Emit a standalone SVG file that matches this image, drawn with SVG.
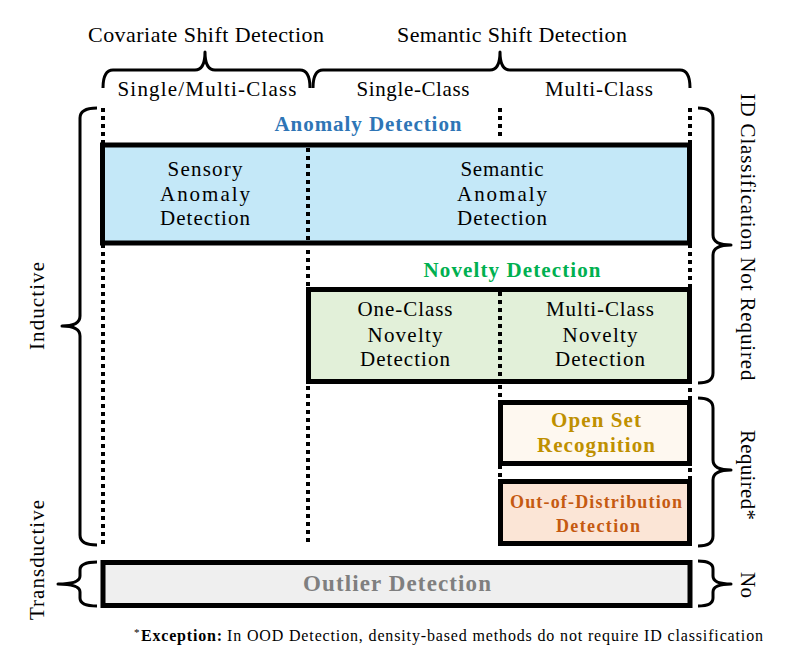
<svg xmlns="http://www.w3.org/2000/svg" width="804" height="662" viewBox="0 0 804 662">
<style>
text{font-family:"Liberation Serif","DejaVu Serif",serif;fill:#000}
.t{font-size:21px;text-anchor:middle}
.h{font-size:22px;text-anchor:middle}
.b{font-weight:bold;text-anchor:middle}
.box{stroke:#000;stroke-width:5}
.dot{stroke:#000;stroke-width:4;stroke-dasharray:4 4;fill:none}
.br{stroke:#000;stroke-width:3;fill:none;stroke-linejoin:round}
</style>
<rect width="804" height="662" fill="#fff"/>
<g id="connectors">
<line class="dot" x1="103" y1="108" x2="103" y2="546"/>
<line class="dot" x1="500" y1="108" x2="500" y2="140"/>
<line class="dot" x1="690" y1="108" x2="690" y2="546"/>
<line class="dot" x1="308" y1="250" x2="308" y2="546"/>
<line class="dot" x1="500" y1="385" x2="500" y2="546"/>
</g>
<g id="top-braces">
<path class="br" d="M103,88 Q103,70 113,70 L195,70 Q205,70 205,52 Q205,70 215,70 L300,70 Q310,70 310,88"/>
<path class="br" d="M313,88 Q313,70 323,70 L490,70 Q500,70 500,52 Q500,70 510,70 L680,70 Q690,70 690,88"/>
<text class="h" x="206" y="42" textLength="236" lengthAdjust="spacing">Covariate Shift Detection</text>
<text class="h" x="512" y="42" textLength="230" lengthAdjust="spacing">Semantic Shift Detection</text>
<text class="t" x="207" y="96" textLength="179" lengthAdjust="spacing">Single/Multi-Class</text>
<text class="t" x="413" y="96" textLength="113" lengthAdjust="spacing">Single-Class</text>
<text class="t" x="599" y="96" textLength="108" lengthAdjust="spacing">Multi-Class</text>
</g>
<g id="anomaly">
<text class="b" x="368" y="131" font-size="21" style="fill:#2e75b6" textLength="187" lengthAdjust="spacing">Anomaly Detection</text>
<rect class="box" x="102.5" y="145" width="587" height="98" fill="#c4e8f8"/>
<line class="dot" x1="308" y1="148" x2="308" y2="240"/>
<text class="t" x="205" y="176" textLength="75" lengthAdjust="spacing">Sensory</text>
<text class="t" x="205" y="201" textLength="90" lengthAdjust="spacing">Anomaly</text>
<text class="t" x="205" y="225" textLength="90" lengthAdjust="spacing">Detection</text>
<text class="t" x="502" y="176" textLength="83" lengthAdjust="spacing">Semantic</text>
<text class="t" x="502" y="201" textLength="90" lengthAdjust="spacing">Anomaly</text>
<text class="t" x="502" y="225" textLength="90" lengthAdjust="spacing">Detection</text>
</g>
<g id="novelty">
<text class="b" x="512" y="277" font-size="21" style="fill:#00b050" textLength="177" lengthAdjust="spacing">Novelty Detection</text>
<rect class="box" x="308.5" y="289.5" width="381" height="92" fill="#e2f0d9"/>
<line class="dot" x1="500" y1="292" x2="500" y2="380"/>
<text class="t" x="405" y="316" textLength="95" lengthAdjust="spacing">One-Class</text>
<text class="t" x="405" y="342" textLength="75" lengthAdjust="spacing">Novelty</text>
<text class="t" x="405" y="366" textLength="90" lengthAdjust="spacing">Detection</text>
<text class="t" x="600" y="316" textLength="108" lengthAdjust="spacing">Multi-Class</text>
<text class="t" x="600" y="342" textLength="75" lengthAdjust="spacing">Novelty</text>
<text class="t" x="600" y="366" textLength="90" lengthAdjust="spacing">Detection</text>
</g>
<g id="osr">
<rect class="box" x="500.5" y="402.5" width="189" height="61" fill="#fef8f0"/>
<text class="b" x="596" y="427" font-size="21" style="fill:#bf9000" textLength="90" lengthAdjust="spacing">Open Set</text>
<text class="b" x="596" y="452" font-size="21" style="fill:#bf9000" textLength="118" lengthAdjust="spacing">Recognition</text>
</g>
<g id="ood">
<rect class="box" x="500.5" y="481.5" width="189" height="62" fill="#fbe5d6"/>
<text class="b" x="596" y="508" font-size="18" style="fill:#c55a11" textLength="172" lengthAdjust="spacing">Out-of-Distribution</text>
<text class="b" x="598" y="532" font-size="18" style="fill:#c55a11" textLength="84" lengthAdjust="spacing">Detection</text>
</g>
<g id="outlier">
<rect class="box" x="103" y="562.5" width="587" height="43" fill="#efefef"/>
<text class="b" x="397" y="591" font-size="23" style="fill:#7f7f7f" textLength="188" lengthAdjust="spacing">Outlier Detection</text>
</g>
<g id="side-braces">
<path class="br" d="M97,108 Q80,108 80,118 L80,316 Q80,326 62,326 Q80,326 80,336 L80,535 Q80,545 97,545"/>
<path class="br" d="M97,562 Q80,562 80,570 L80,576 Q80,584 58,584 Q80,584 80,592 L80,598 Q80,606 97,606"/>
<text class="t" transform="translate(44,306) rotate(-90)" textLength="88" lengthAdjust="spacing">Inductive</text>
<text class="t" transform="translate(44,560) rotate(-90)" textLength="120" lengthAdjust="spacing">Transductive</text>
<path class="br" d="M698,108 Q713,108 713,118 L713,235 Q713,245 731,245 Q713,245 713,255 L713,373 Q713,383 698,383"/>
<path class="br" d="M698,398 Q713,398 713,408 L713,460 Q713,470 731,470 Q713,470 713,480 L713,536 Q713,546 698,546"/>
<path class="br" d="M698,561 Q713,561 713,569 L713,576 Q713,584 731,584 Q713,584 713,592 L713,598 Q713,606 698,606"/>
<text class="t" transform="translate(741,237) rotate(90)" textLength="287" lengthAdjust="spacing">ID Classification Not Required</text>
<text class="t" transform="translate(741,475) rotate(90)" textLength="90" lengthAdjust="spacing">Required*</text>
<text class="t" transform="translate(741,585) rotate(90)" textLength="26" lengthAdjust="spacing">No</text>
</g>
<g id="footer">
<text y="641" font-size="16"><tspan x="134" font-size="11" dy="-5">*</tspan><tspan x="141" font-weight="bold" dy="5" textLength="81" lengthAdjust="spacing">Exception:</tspan><tspan x="227" textLength="536" lengthAdjust="spacing">In OOD Detection, density-based methods do not require ID classification</tspan></text>
</g>
</svg>
